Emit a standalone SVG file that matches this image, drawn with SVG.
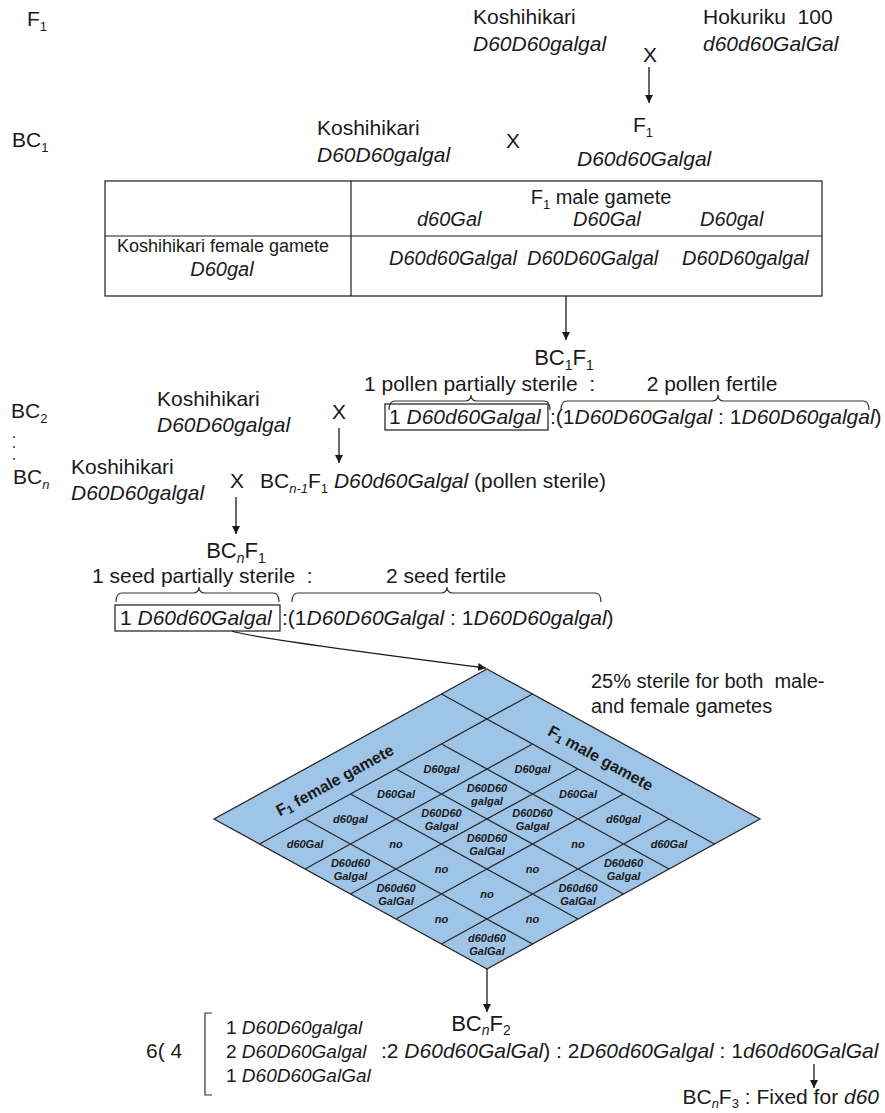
<svg xmlns="http://www.w3.org/2000/svg" width="885" height="1113" viewBox="0 0 885 1113">
<style>
.t{font-family:"Liberation Sans",Arial,sans-serif;font-size:21px;fill:#1a1a1a}
.m{font-size:20px}
.r{font-size:19px}
.big{font-size:22px}
.sm{font-size:18px}
.i{font-style:italic}
.c{text-anchor:middle}
.ln{stroke:#1a1a1a;stroke-width:1.3;fill:none}
.br{stroke:#333;stroke-width:1.2;fill:none}
.box{stroke:#1a1a1a;stroke-width:1.2;fill:none}
.dm{fill:#9ec5e8;stroke:#2a2a2a;stroke-width:1.3}
.g{stroke:#2a2a2a;stroke-width:1.3;fill:none}
.cl{font-family:"Liberation Sans",Arial,sans-serif;font-size:11px;font-weight:bold;font-style:italic;text-anchor:middle;fill:#1a1a1a}
.hd{font-family:"Liberation Sans",Arial,sans-serif;font-size:16px;font-weight:bold;text-anchor:middle;dominant-baseline:central;fill:#1a1a1a}
</style>
<defs>
<marker id="ah" viewBox="0 0 10 10" refX="10" refY="5" markerUnits="userSpaceOnUse" markerWidth="8" markerHeight="8" orient="auto">
<path d="M0,0 L10,5 L0,10 z" fill="#1a1a1a"/>
</marker>
</defs>

<g id="gen-labels">
<text class="t" x="27" y="26">F<tspan font-size="13" dy="5">1</tspan></text>
<text class="t" x="12" y="147">BC<tspan font-size="13" dy="5">1</tspan></text>
<text class="t" x="11" y="418">BC<tspan font-size="13" dy="5">2</tspan></text>
<circle cx="14" cy="437" r="1" fill="#333"/>
<circle cx="14" cy="447" r="1" fill="#333"/>
<circle cx="14" cy="459" r="1" fill="#333"/>
<text class="t" x="13" y="484">BC<tspan class="i" font-size="13" dy="5">n</tspan></text>
</g>

<g id="f1-cross">
<text class="t" x="473" y="24">Koshihikari</text>
<text class="t i" x="473" y="51">D60D60galgal</text>
<text class="t" x="703" y="24" xml:space="preserve">Hokuriku  100</text>
<text class="t i" x="703" y="51">d60d60GalGal</text>
<text class="t c" x="650" y="62">X</text>
<text class="t c" x="643" y="132">F<tspan font-size="13" dy="5">1</tspan></text>
</g>

<g id="bc1-cross">
<text class="t" x="317" y="135">Koshihikari</text>
<text class="t i" x="317" y="162">D60D60galgal</text>
<text class="t c" x="513" y="148">X</text>
<text class="t i" x="577" y="166">D60d60Galgal</text>
</g>

<g id="table">
<rect class="box" x="105" y="181" width="717" height="115"/>
<line class="box" x1="351" y1="181" x2="351" y2="296"/>
<line class="box" x1="105" y1="236" x2="822" y2="236"/>
<text class="t m c" x="601" y="204">F<tspan font-size="13" dy="5">1</tspan><tspan dy="-5"> male gamete</tspan></text>
<text class="t m i" x="417" y="226">d60Gal</text>
<text class="t m i" x="573" y="226">D60Gal</text>
<text class="t m i" x="700" y="226">D60gal</text>
<text class="t sm c" x="223" y="252">Koshihikari female gamete</text>
<text class="t m i c" x="222" y="276">D60gal</text>
<text class="t m i" x="389" y="265">D60d60Galgal</text>
<text class="t m i" x="527" y="265">D60D60Galgal</text>
<text class="t m i" x="682" y="265">D60D60galgal</text>
</g>

<g id="bc1f1">
<text class="t big c" x="564" y="365">BC<tspan font-size="14" dy="5">1</tspan><tspan dy="-5">F</tspan><tspan font-size="14" dy="5">1</tspan></text>
<text class="t" x="364" y="391" xml:space="preserve">1 pollen partially sterile  :</text>
<text class="t c" x="712" y="391">2 pollen fertile</text>
<path class="br" d="M389,410 Q389,401 395,401 L465,401 Q471,401 471,395 Q471,401 477,401 L544,401 Q550,401 550,410"/>
<path class="br" d="M561,410 Q561,401 567,401 L712,401 Q718,401 718,395 Q718,401 724,401 L863,401 Q869,401 869,410"/>
<rect class="box" x="385" y="404" width="163" height="26"/>
<text class="t" x="389" y="424">1 <tspan class="i">D60d60Galgal</tspan></text>
<text class="t" x="550" y="424">:(1<tspan class="i">D60D60Galgal</tspan> : 1<tspan class="i">D60D60galgal</tspan>)</text>
</g>

<g id="bc2-cross">
<text class="t" x="157" y="406">Koshihikari</text>
<text class="t i" x="157" y="432">D60D60galgal</text>
<text class="t c" x="339" y="419">X</text>
</g>

<g id="bcn-cross">
<text class="t" x="71" y="474">Koshihikari</text>
<text class="t i" x="71" y="500">D60D60galgal</text>
<text class="t c" x="237" y="488">X</text>
<text class="t" x="260" y="488">BC<tspan class="i" font-size="13" dy="5">n-1</tspan><tspan dy="-5">F</tspan><tspan font-size="13" dy="5">1</tspan><tspan dy="-5"> </tspan><tspan class="i">D60d60Galgal</tspan> (pollen sterile)</text>
</g>

<g id="bcnf1">
<text class="t big c" x="236" y="558">BC<tspan class="i" font-size="14" dy="5">n</tspan><tspan dy="-5">F</tspan><tspan font-size="14" dy="5">1</tspan></text>
<text class="t" x="92" y="583" xml:space="preserve">1 seed partially sterile  :</text>
<text class="t c" x="446" y="583">2 seed fertile</text>
<path class="br" d="M116,602 Q116,593 122,593 L193,593 Q199,593 199,587 Q199,593 205,593 L273,593 Q279,593 279,602"/>
<path class="br" d="M292,602 Q292,593 298,593 L441,593 Q447,593 447,587 Q447,593 453,593 L595,593 Q601,593 601,602"/>
<rect class="box" x="115" y="605" width="165" height="26"/>
<text class="t" x="120" y="625">1 <tspan class="i">D60d60Galgal</tspan></text>
<text class="t" x="282" y="625">:(1<tspan class="i">D60D60Galgal</tspan> : 1<tspan class="i">D60D60galgal</tspan>)</text>
</g>

<g id="note">
<text class="t m" x="591" y="688" xml:space="preserve">25% sterile for both  male-</text>
<text class="t m" x="591" y="713">and female gametes</text>
</g>

<g id="punnett">
<polygon class="dm" points="487,669 760,819 487,969 214,819"/>
<path class="g" d="M532.5,694 L259.5,844 M441.5,694 L714.5,844
M532.5,744 L305,869 M578,769 L350.5,894 M623.5,794 L396,919 M669,819 L441.5,944
M441.5,744 L669,869 M396,769 L623.5,894 M350.5,794 L578,919 M305,819 L532.5,944"/>
<text class="hd" transform="translate(334.6,780) rotate(-28.8)">F<tspan font-size="11" dy="4">1</tspan><tspan dy="-4"> female gamete</tspan></text>
<text class="hd" transform="translate(600.8,758) rotate(28.8)">F<tspan font-size="11" dy="4">1</tspan><tspan dy="-4"> male gamete</tspan></text>
<text class="cl" x="532.5" y="773">D60gal</text>
<text class="cl" x="578" y="798">D60Gal</text>
<text class="cl" x="623.5" y="823">d60gal</text>
<text class="cl" x="669" y="848">d60Gal</text>
<text class="cl" x="441.5" y="773">D60gal</text>
<text class="cl" x="396" y="798">D60Gal</text>
<text class="cl" x="350.5" y="823">d60gal</text>
<text class="cl" x="305" y="848">d60Gal</text>
<text class="cl" x="487" y="792">D60D60</text><text class="cl" x="487" y="805">galgal</text>
<text class="cl" x="532.5" y="817">D60D60</text><text class="cl" x="532.5" y="830">Galgal</text>
<text class="cl" x="441.5" y="817">D60D60</text><text class="cl" x="441.5" y="830">Galgal</text>
<text class="cl" x="487" y="842">D60D60</text><text class="cl" x="487" y="855">GalGal</text>
<text class="cl" x="578" y="848">no</text>
<text class="cl" x="396" y="848">no</text>
<text class="cl" x="623.5" y="867">D60d60</text><text class="cl" x="623.5" y="880">Galgal</text>
<text class="cl" x="350.5" y="867">D60d60</text><text class="cl" x="350.5" y="880">Galgal</text>
<text class="cl" x="532.5" y="873">no</text>
<text class="cl" x="441.5" y="873">no</text>
<text class="cl" x="578" y="892">D60d60</text><text class="cl" x="578" y="905">GalGal</text>
<text class="cl" x="396" y="892">D60d60</text><text class="cl" x="396" y="905">GalGal</text>
<text class="cl" x="487" y="898">no</text>
<text class="cl" x="532.5" y="923">no</text>
<text class="cl" x="441.5" y="923">no</text>
<text class="cl" x="487" y="942">d60d60</text><text class="cl" x="487" y="955">GalGal</text>
</g>

<g id="bcnf2">
<text class="t big c" x="481" y="1031">BC<tspan class="i" font-size="14" dy="4">n</tspan><tspan dy="-4">F</tspan><tspan font-size="14" dy="4">2</tspan></text>
<text class="t" x="146" y="1058">6( 4</text>
<path class="br" d="M212,1013 L205,1013 L205,1095 L212,1095"/>
<text class="t r" x="226" y="1034">1 <tspan class="i">D60D60galgal</tspan></text>
<text class="t r" x="226" y="1058">2 <tspan class="i">D60D60Galgal</tspan></text>
<text class="t r" x="226" y="1082">1 <tspan class="i">D60D60GalGal</tspan></text>
<text class="t" x="381" y="1058">:2 <tspan class="i">D60d60GalGal</tspan>) : 2<tspan class="i">D60d60Galgal</tspan> : 1<tspan class="i">d60d60GalGal</tspan></text>
</g>

<g id="bcnf3">
<text class="t" x="879" y="1104" text-anchor="end">BC<tspan class="i" font-size="13" dy="4">n</tspan><tspan dy="-4">F</tspan><tspan font-size="13" dy="4">3</tspan><tspan dy="-4"> : Fixed for </tspan><tspan class="i">d60</tspan></text>
</g>

<g id="connectors">
<line class="ln" x1="649" y1="67" x2="649" y2="103" marker-end="url(#ah)"/>
<line class="ln" x1="566" y1="296" x2="566" y2="340" marker-end="url(#ah)"/>
<line class="ln" x1="339" y1="428" x2="339" y2="463" marker-end="url(#ah)"/>
<line class="ln" x1="236" y1="497" x2="236" y2="534" marker-end="url(#ah)"/>
<path class="ln" d="M232,631 Q245,637 486,668" marker-end="url(#ah)"/>
<line class="ln" x1="487" y1="969" x2="487" y2="1012" marker-end="url(#ah)"/>
<line class="ln" x1="814" y1="1064" x2="814" y2="1088" marker-end="url(#ah)"/>
</g>
</svg>
